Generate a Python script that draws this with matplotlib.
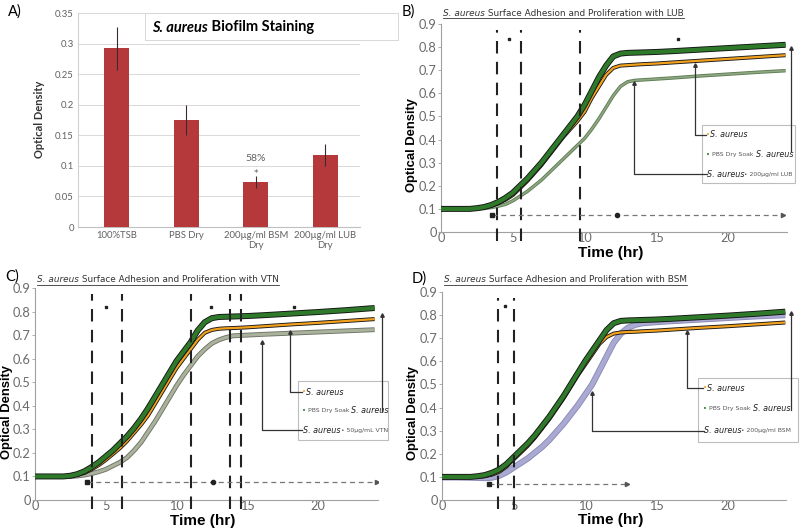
import matplotlib
matplotlib.use('Agg')
import matplotlib.pyplot as plt
from matplotlib.lines import Line2D
from matplotlib.patches import Rectangle

# ---------------- Panel A data ----------------
bar_labels = ['100%TSB', 'PBS Dry', '200µg/ml BSM\nDry', '200µg/ml LUB\nDry']
bar_values = [0.292, 0.175, 0.073, 0.117]
bar_errors = [0.035, 0.025, 0.010, 0.018]
a_yticks = [0, 0.05, 0.1, 0.15, 0.2, 0.25, 0.3, 0.35]
a_yticklabels = ['0', '0.05', '0.1', '0.15', '0.2', '0.25', '0.3', '0.35']

# ---------------- Growth curve data ----------------
hours = [0, 1, 2, 2.5, 3, 3.5, 4, 4.5, 5, 5.5, 6, 6.5, 7, 7.5, 8, 8.5, 9, 9.5,
         10, 10.5, 11, 11.5, 12, 12.5, 13, 13.5, 14, 15, 16, 18, 20, 22, 24]

b_saureus = [0.1, 0.1, 0.1, 0.102, 0.106, 0.113, 0.125, 0.14, 0.16, 0.19, 0.22, 0.255, 0.29,
             0.33, 0.37, 0.41, 0.445, 0.48, 0.52, 0.58, 0.63, 0.68, 0.71, 0.72, 0.722, 0.724,
             0.726, 0.729, 0.733, 0.741, 0.749, 0.757, 0.765]
b_pbs = [0.1, 0.1, 0.1, 0.103, 0.108, 0.117, 0.13, 0.148, 0.17, 0.2, 0.23, 0.265, 0.3, 0.34,
         0.38, 0.42, 0.46, 0.5, 0.55, 0.61, 0.67, 0.72, 0.76, 0.772, 0.775, 0.776, 0.777, 0.779,
         0.782, 0.789, 0.796, 0.803, 0.81]
b_lub = [0.1, 0.1, 0.1, 0.1, 0.102, 0.106, 0.112, 0.12, 0.135, 0.155, 0.175, 0.2, 0.225, 0.255,
         0.285, 0.315, 0.345, 0.375, 0.405, 0.445, 0.49, 0.54, 0.59, 0.63, 0.65, 0.656, 0.658,
         0.662, 0.666, 0.675, 0.683, 0.691, 0.698]

c_saureus = [0.1, 0.1, 0.1, 0.102, 0.107, 0.115, 0.13, 0.148, 0.17, 0.195, 0.22, 0.25, 0.285,
             0.32, 0.36, 0.41, 0.46, 0.51, 0.56, 0.6, 0.64, 0.68, 0.71, 0.722, 0.727, 0.729,
             0.73, 0.733, 0.737, 0.745, 0.752, 0.76, 0.768]
c_pbs = [0.1, 0.1, 0.1, 0.103, 0.11, 0.122, 0.14, 0.16, 0.185, 0.21, 0.24, 0.27, 0.305, 0.345,
         0.39, 0.44, 0.49, 0.54, 0.59, 0.63, 0.67, 0.72, 0.755, 0.772, 0.777, 0.778, 0.779,
         0.781, 0.784, 0.791, 0.798, 0.806, 0.815]
c_vtn = [0.1, 0.1, 0.1, 0.1, 0.102, 0.106, 0.112, 0.12, 0.13, 0.145, 0.16, 0.18, 0.21, 0.245,
         0.29, 0.335, 0.385, 0.435, 0.485, 0.53, 0.57, 0.61, 0.64, 0.665, 0.68, 0.69, 0.697,
         0.70, 0.703, 0.708, 0.713, 0.718, 0.723]

d_saureus = [0.1, 0.1, 0.1, 0.1, 0.103, 0.11, 0.122, 0.145, 0.175, 0.205, 0.235, 0.27, 0.31,
             0.35, 0.395, 0.44, 0.49, 0.54, 0.585, 0.63, 0.675, 0.705, 0.72, 0.725, 0.727,
             0.728, 0.73, 0.733, 0.737, 0.745, 0.752, 0.76, 0.768]
d_pbs = [0.1, 0.1, 0.1, 0.103, 0.108, 0.118, 0.132, 0.155, 0.185, 0.215, 0.245, 0.28, 0.32,
         0.36, 0.405, 0.45, 0.5, 0.55, 0.6, 0.645, 0.69, 0.735, 0.765, 0.775, 0.777, 0.778,
         0.779, 0.781, 0.784, 0.791, 0.798, 0.806, 0.815]
d_bsm = [0.098, 0.098, 0.097, 0.096, 0.095, 0.097, 0.105, 0.12, 0.14, 0.16, 0.18, 0.205, 0.23,
         0.26, 0.295, 0.33, 0.37, 0.41, 0.455, 0.5, 0.56, 0.62, 0.68, 0.72, 0.745, 0.758,
         0.765, 0.77, 0.774, 0.781, 0.788, 0.795, 0.80]

b_vlines = [3.93, 5.57, 9.7]
c_vlines = [4.05, 6.13, 11.0, 13.78, 14.54]
d_vlines = [3.9, 5.06]
b_stars = [(4.74, 0.835), (16.5, 0.835)]
c_stars = [(5.02, 0.818), (12.44, 0.818), (18.3, 0.818)]
d_stars = [(4.43, 0.84)]
# dashed arrow: (start, mid-dot or None, end, y)
b_arrow = (3.53, 12.29, 23.85, 0.074)
c_arrow = (3.7, 12.55, 24.2, 0.078)
d_arrow = (3.31, None, 12.9, 0.069)

curve_ticks = [0, 5, 10, 15, 20]
od_ticks = [0, 0.1, 0.2, 0.3, 0.4, 0.5, 0.6, 0.7, 0.8, 0.9]
od_ticklabels = ['0', '0.1', '0.2', '0.3', '0.4', '0.5', '0.6', '0.7', '0.8', '0.9']

plt.rcParams['font.family'] = ['DejaVu Sans']

W, H = 800, 532
fig = plt.figure(figsize=(8, 5.32), dpi=100)
fig.patch.set_facecolor('white')


def rect(left, top, right, bottom):
    return [left / W, 1 - bottom / H, (right - left) / W, (bottom - top) / H]


def rich(ax, x, y, parts, transform=None, zorder=6):
    tr = transform if transform is not None else ax.transData
    t = ax.text(x, y, parts[0][0], transform=tr, va='center', ha='left',
                clip_on=False, zorder=zorder, **parts[0][1])
    first = t
    for s, p in parts[1:]:
        t = ax.annotate(s, xy=(1, 0.5), xycoords=t, va='center', ha='left',
                        annotation_clip=False, zorder=zorder, **p)
    return first, t


grey = '#606060'

# ================= Panel A =================
axA = fig.add_axes(rect(78, 13, 360, 227))
xa = list(range(len(bar_values)))
axA.bar(xa, bar_values, width=0.36, color='#b5393b', zorder=3)
axA.errorbar(xa, bar_values, yerr=bar_errors, fmt='none', ecolor='#3a2a2a',
             elinewidth=0.8, capsize=0, zorder=4)
axA.set_xlim(-0.56, 3.5)
axA.set_ylim(0, 0.35)
axA.set_yticks(a_yticks)
axA.set_yticklabels(a_yticklabels, family='Lato')
axA.set_xticks(xa)
axA.set_xticklabels(bar_labels, linespacing=1.1, family='Lato')
axA.tick_params(axis='both', length=0, labelsize=6.8, colors=grey, pad=3)
axA.yaxis.grid(True, color='#d9d9d9', lw=0.7, zorder=0)
axA.set_axisbelow(True)
for s in ['top', 'right']:
    axA.spines[s].set_visible(False)
axA.spines['left'].set_color('#d0d0d0')
axA.spines['bottom'].set_color('#c0c0c0')
axA.set_ylabel('Optical Density', fontsize=8, fontweight='bold', color='#333333',
               family='Lato')
axA.yaxis.set_label_coords(-0.117, 0.505)
axA.text(2, 0.112, '58%', ha='center', va='center', fontsize=7.5, color=grey, family='Lato')
axA.text(2, 0.088, '*', ha='center', va='center', fontsize=6.5, color=grey)

axA.add_patch(Rectangle((145 / W, 1 - 40 / H), (398 - 145) / W, 27 / H,
                        transform=fig.transFigure, facecolor='white',
                        edgecolor='#d8d8d8', lw=0.7, zorder=5, clip_on=False))
rich(axA, 152 / W, 1 - 27.5 / H,
     [('S. aureus', dict(fontsize=10.5, fontweight='bold', style='italic', family='Lato')),
      (' Biofilm Staining', dict(fontsize=10.5, fontweight='bold', family='Lato'))],
     transform=fig.transFigure, zorder=7)
fig.text(8 / W, 1 - 12 / H, 'A)', fontsize=10.5, va='center', ha='left', family='Lato')


# ================= Curve panels =================
def curve_panel(box, xmax, label, title_rest, series, vlines, stars, arrow,
                legbox, legentries, connectors, ylab_coords, xlab_coords,
                title_xy, plabel_xy):
    ax = fig.add_axes(rect(*box))
    ax.set_xlim(0, xmax)
    ax.set_ylim(0, 0.9)
    for y, face, edge, lw in series:
        ax.plot(hours, y, color=edge, lw=lw + 1.3, solid_capstyle='butt', zorder=3)
        ax.plot(hours, y, color=face, lw=lw, solid_capstyle='butt', zorder=3)
    for v in vlines:
        ax.plot([v, v], [-0.04, 0.875], color='#222222', lw=1.5, dashes=(6, 4),
                clip_on=False, zorder=4)
    for sx, sy in stars:
        ax.plot([sx], [sy], marker='s', ms=2, color='#222222', zorder=4)
    x0, xm, x1, ya = arrow
    ax.plot([x0, x1], [ya, ya], color='#777777', lw=0.9, dashes=(4, 3), zorder=4)
    ax.plot([x0], [ya], marker='s', ms=2.5, color='#222222', zorder=5)
    if xm is not None:
        ax.plot([xm], [ya], marker='o', ms=3, color='#222222', zorder=5)
    ax.plot([x1], [ya], marker='>', ms=3, color='#555555', zorder=5)
    # legend box
    lx0, ly0, lx1, ly1 = legbox
    ax.add_patch(Rectangle((lx0, ly0), lx1 - lx0, ly1 - ly0, facecolor='white',
                           edgecolor='#bdbdbd', lw=0.8, clip_on=False, zorder=5))
    for ex, ey, parts in legentries:
        rich(ax, ex, ey, parts, zorder=6)
    for xs, ys in connectors:
        ax.plot(xs, ys, color='#333333', lw=0.9, clip_on=False, zorder=6)
        ax.plot([xs[0]], [ys[0]], marker='^', ms=2.5, color='#333333', clip_on=False,
                zorder=6)
    ax.set_xticks(curve_ticks)
    ax.set_yticks(od_ticks)
    ax.set_yticklabels(od_ticklabels, family='Lato')
    ax.set_xticklabels([str(t) for t in curve_ticks], family='Lato')
    ax.tick_params(axis='both', labelsize=9.2, colors='#6a6a6a')
    ax.tick_params(axis='y', length=2, width=0.6, pad=1.2, color='#a0a0a0')
    ax.tick_params(axis='x', length=0, pad=0)
    for s in ['top', 'right']:
        ax.spines[s].set_visible(False)
    ax.spines['left'].set_color('#a0a0a0')
    ax.spines['bottom'].set_color('#a0a0a0')
    ax.set_ylabel('Optical Density', fontsize=9.4, fontweight='bold',
                  family='Liberation Sans')
    ax.yaxis.set_label_coords(*ylab_coords)
    ax.set_xlabel('Time (hr)', fontsize=11, fontweight='bold', family='Liberation Sans')
    ax.xaxis.set_label_coords(*xlab_coords)
    f, l = rich(ax, title_xy[0] / W, 1 - title_xy[1] / H,
                [('S. aureus', dict(fontsize=6.4, style='italic', color='#333333')),
                 (title_rest, dict(fontsize=6.4, color='#333333'))],
                transform=fig.transFigure)
    fig.text(plabel_xy[0] / W, 1 - plabel_xy[1] / H, label, fontsize=10.5,
             va='center', ha='left', family='Lato')
    return ax, f, l


orange = ('#f2a11f', '#1a1a1a', 1.6)
green = ('#2e7a2a', '#141414', 3.0)


def leg_parts(kind, rest):
    it = dict(fontsize=5.8, style='italic', color='#222222')
    sm = dict(fontsize=4.4, color='#555555')
    if kind == 'sa':
        return [('•', dict(fontsize=5, color='#f2a11f')), ('S. aureus', it)]
    if kind == 'pbs':
        return [('• ', dict(fontsize=5, color='#2e7a2a')), ('PBS Dry Soak ', sm),
                ('S. aureus', it)]
    return [('S. aureus', it), ('• ' + rest, sm)]


titles = []

# Panel B
axB, f, l = curve_panel(
    (441, 24, 787, 232), 24.1, 'B)', ' Surface Adhesion and Proliferation with LUB',
    [(b_lub, '#8fa883', '#5f7d55', 1.2),
     (b_saureus, orange[0], orange[1], orange[2]),
     (b_pbs, green[0], green[1], green[2])],
    b_vlines, b_stars, b_arrow,
    (18.17, 0.211, 24.67, 0.463),
    [(18.45, 0.42, leg_parts('sa', '')),
     (18.45, 0.335, leg_parts('pbs', '')),
     (18.5, 0.25, leg_parts('x', '200µg/ml LUB'))],
    [([17.7, 17.7, 18.45], [0.723, 0.42, 0.42]),
     ([24.37, 24.37], [0.795, 0.35]),
     ([13.47, 13.47, 18.5], [0.644, 0.25, 0.25])],
    (-0.066, 0.42), (0.49, -0.065), (443, 13), (402, 12))
titles.append((f, l))

# Panel C
axC, f, l = curve_panel(
    (35, 288, 378, 500), 24.24, 'C)', ' Surface Adhesion and Proliferation with VTN',
    [(c_vtn, '#aab29c', '#6e7466', 2.2),
     (c_saureus, orange[0], orange[1], orange[2]),
     (c_pbs, green[0], green[1], green[2])],
    c_vlines, c_stars, c_arrow,
    (18.6, 0.255, 24.97, 0.505),
    [(18.85, 0.457, leg_parts('sa', '')),
     (18.85, 0.378, leg_parts('pbs', '')),
     (18.95, 0.297, leg_parts('x', '50µg/mL VTN'))],
    [([18.0, 18.0, 18.85], [0.714, 0.457, 0.457]),
     ([24.5, 24.5], [0.785, 0.378]),
     ([16.02, 16.02, 18.85], [0.672, 0.297, 0.297])],
    (-0.063, 0.415), (0.49, -0.068), (37, 280), (5, 277))
titles.append((f, l))

# Panel D
axD, f, l = curve_panel(
    (442, 292, 786, 500), 24.05, 'D)', ' Surface Adhesion and Proliferation with BSM',
    [(d_bsm, '#a9a9d2', '#8a8ab8', 3.2),
     (d_saureus, orange[0], orange[1], orange[2]),
     (d_pbs, green[0], green[1], green[2])],
    d_vlines, d_stars, d_arrow,
    (17.92, 0.252, 24.92, 0.527),
    [(18.25, 0.483, leg_parts('sa', '')),
     (18.25, 0.394, leg_parts('pbs', '')),
     (18.3, 0.30, leg_parts('x', '200µg/ml BSM'))],
    [([17.15, 17.15, 18.25], [0.728, 0.483, 0.483]),
     ([24.38, 24.38], [0.808, 0.39]),
     ([10.47, 10.47, 18.3], [0.462, 0.30, 0.30])],
    (-0.066, 0.42), (0.49, -0.063), (444, 280), (412, 279))
titles.append((f, l))

# underline panel titles
fig.canvas.draw()
r = fig.canvas.get_renderer()
for f, l in titles:
    b0 = f.get_window_extent(r)
    b1 = l.get_window_extent(r)
    y = b0.y0 - 0.5
    fig.add_artist(Line2D([b0.x0 / W, b1.x1 / W], [y / H, y / H],
                          transform=fig.transFigure, color='#333333', lw=0.6))

fig.savefig('out.png', dpi=100)
